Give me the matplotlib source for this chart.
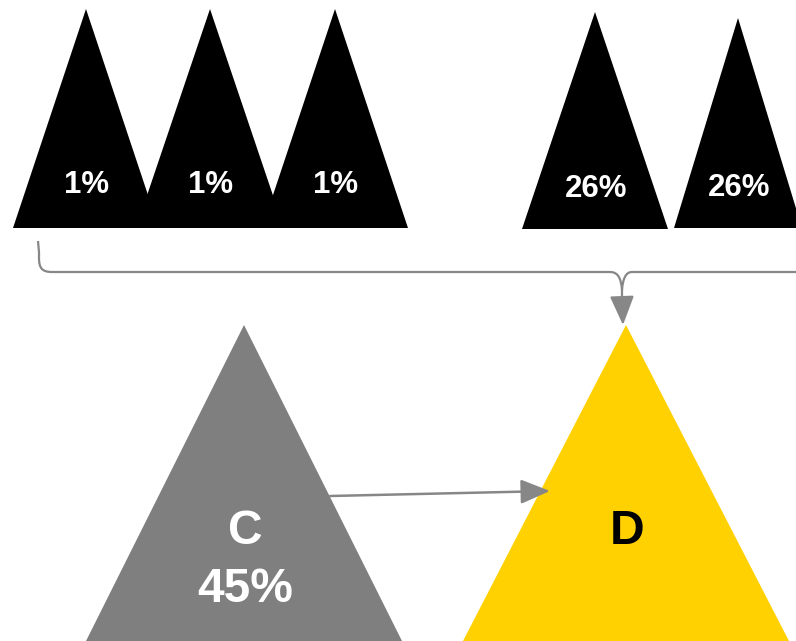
import matplotlib.pyplot as plt
from matplotlib.patches import Polygon, PathPatch, FancyArrowPatch
from matplotlib.path import Path

plt.rcParams['font.family'] = ['Liberation Sans', 'DejaVu Sans']

# values shown in the small triangles
small_labels = ["1%", "1%", "1%", "26%", "26%"]
# big triangles
big_names = ["C", "D"]
big_values = ["45%", ""]

# layout (pixel coordinates, y downwards)
small_apex = [(86, 9), (210, 9), (335, 9), (595, 12), (738, 18)]
small_base_y = [228, 228, 228, 229, 228]
small_half = [73, 74, 73, 73, 64]
small_text_y = [185, 185, 185, 189, 188]

big_apex = [(244, 325), (626, 325)]
big_half = [158, 163]
big_colors = ["#7f7f7f", "#ffd100"]
big_text_colors = ["white", "black"]

W, H = 796, 641
fig = plt.figure(figsize=(W / 100, H / 100), dpi=100)
ax = fig.add_axes([0, 0, 1, 1])
ax.set_xlim(0, W)
ax.set_ylim(H, 0)
ax.axis("off")

for (ax_x, ax_y), by, hw, lab, ty in zip(small_apex, small_base_y, small_half,
                                        small_labels, small_text_y):
    ax.add_patch(Polygon([(ax_x, ax_y), (ax_x - hw, by), (ax_x + hw, by)],
                         closed=True, fc="black", ec="none"))
    ax.text(ax_x + 1, ty, lab, color="white", fontsize=22.5, fontweight="bold",
            ha="center", va="center")

for (px, py), hw, col, tcol, name, val in zip(big_apex, big_half, big_colors,
                                              big_text_colors, big_names, big_values):
    ax.add_patch(Polygon([(px, py), (px - hw, H), (px + hw, H)],
                         closed=True, fc=col, ec="none"))
    ax.text(px + 1, 532, name, color=tcol, fontsize=34.5, fontweight="bold",
            ha="center", va="center")
    if val:
        ax.text(px + 1, 590, val, color=tcol, fontsize=34.5, fontweight="bold",
                ha="center", va="center")

# bracket gathering the small triangles into D
lc = "#878787"
verts = [(38, 241), (39, 252), (39, 258),
         (39, 268), (42, 272), (52, 272),
         (610, 272),
         (618, 272), (621, 278), (622, 290), (622, 300)]
codes = [Path.MOVETO, Path.LINETO, Path.LINETO,
         Path.CURVE4, Path.CURVE4, Path.CURVE4,
         Path.LINETO,
         Path.CURVE4, Path.CURVE4, Path.CURVE4, Path.LINETO]
ax.add_patch(PathPatch(Path(verts, codes), fc="none", ec=lc, lw=1.6))
verts2 = [(796, 272), (632, 272), (626, 272), (623, 278), (622, 290)]
codes2 = [Path.MOVETO, Path.LINETO, Path.CURVE4, Path.CURVE4, Path.CURVE4]
ax.add_patch(PathPatch(Path(verts2, codes2), fc="none", ec=lc, lw=1.6))
ax.add_patch(FancyArrowPatch((622, 298), (623, 325), arrowstyle="-|>,head_length=12,head_width=5",
                             color=lc, lw=1.6, mutation_scale=1.5, shrinkA=0, shrinkB=0))

# C -> D arrow
ax.add_patch(FancyArrowPatch((330, 496), (550, 491), arrowstyle="-|>,head_length=12,head_width=5",
                             color=lc, lw=1.8, mutation_scale=1.5, shrinkA=0, shrinkB=0))

fig.savefig("out.png", dpi=100)
